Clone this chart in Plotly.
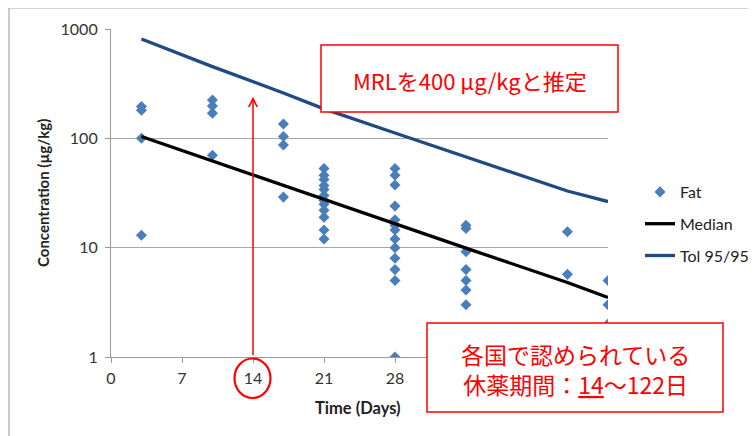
import plotly.graph_objects as go
import math

# ---------------- data ----------------
fat_days = [3, 3, 3, 3,
            10, 10, 10, 10,
            17, 17, 17, 17,
            21, 21, 21, 21, 21, 21, 21, 21, 21, 21, 21, 21,
            28, 28, 28, 28, 28, 28, 28, 28, 28, 28, 28, 28, 28,
            35, 35, 35, 35, 35, 35, 35,
            45, 45,
            49, 49, 49]
fat_conc = [195, 181, 100, 13,
            224, 198, 170, 70,
            135, 104, 87, 29,
            53, 46, 42, 37, 34, 30, 27, 25, 22, 19, 14.5, 12,
            53, 46, 37.5, 24, 18, 16, 14.5, 12, 10, 8, 6.3, 5, 1,
            16, 15, 9.2, 6.3, 5, 4.1, 3,
            14, 5.7,
            5, 3, 2]

line_days = [3, 10, 17, 21, 28, 35, 45, 49]
median_conc = [104, 62, 37, 28, 16.6, 9.9, 4.8, 3.5]
tol_conc = [811, 453, 260, 186, 112, 68, 33, 26.4]

# ticks 35-49 lie hidden behind the text box in the reference
x_ticks = [0, 7, 14, 21, 28]
y_ticks = [1, 10, 100, 1000]
y_ticktext = ["1", "10", "100", "1000"]

mrl_day = 14
mrl_level = 240

# ---------------- layout helpers (screen pixel -> paper) ----------------
OFF = 8                      # page body margin
W, H = 756 - OFF, 436 - OFF
L, R, T, B = 111, 608, 29, 357   # plot area in screen pixels


def px(x):
    return (x - L) / (R - L)


def py(y):
    return (B - y) / (B - T)


FONT = "Lato, 'Open Sans', sans-serif"
JP = "'Noto Sans CJK JP', sans-serif"
RED = "#ff0000"

fig = go.Figure()
fig.add_trace(go.Scatter(
    x=fat_days, y=fat_conc, mode="markers", name="Fat",
    marker=dict(symbol="diamond", size=8.5, color="#4a7ebb"),
    legendgroup="a"))
fig.add_trace(go.Scatter(
    x=line_days, y=median_conc, mode="lines", name="Median",
    line=dict(color="#000000", width=3.3), legendgroup="b"))
fig.add_trace(go.Scatter(
    x=line_days, y=tol_conc, mode="lines", name="Tol 95/95",
    line=dict(color="#1f4a82", width=3.3), legendgroup="c"))

shapes = [
    # outer chart border (top and left)
    dict(type="line", xref="paper", yref="paper", x0=px(9), x1=px(760), y0=py(8), y1=py(8),
         line=dict(color="#a8a8a8", width=1.2)),
    dict(type="line", xref="paper", yref="paper", x0=px(9), x1=px(9), y0=py(8), y1=py(440),
         line=dict(color="#a8a8a8", width=1.2)),
    # MRL box
    dict(type="rect", xref="paper", yref="paper", x0=px(321), x1=px(618), y0=py(112), y1=py(45),
         line=dict(color=RED, width=1.5), fillcolor="white", layer="above"),
    # withdrawal box
    dict(type="rect", xref="paper", yref="paper", x0=px(427), x1=px(723), y0=py(412), y1=py(323),
         line=dict(color=RED, width=1.5), fillcolor="white", layer="above"),
    # circle around 14
    dict(type="circle", xref="paper", yref="paper", x0=px(234.5), x1=px(270.5), y0=py(398), y1=py(358.5),
         line=dict(color=RED, width=2.2), layer="above"),
]

annotations = [
    dict(x=px(470), y=py(80), xref="paper", yref="paper", showarrow=False,
         xanchor="center", yanchor="middle",
         text="MRLを400 µg/kgと推定", font=dict(family=JP, size=22, color=RED)),
    dict(x=px(575), y=py(369), xref="paper", yref="paper", showarrow=False,
         xanchor="center", yanchor="middle",
         text="各国で認められている<br>休薬期間：<u>14</u>～122日",
         font=dict(family=JP, size=23, color=RED), align="center"),
    # arrow
    dict(x=mrl_day, y=math.log10(mrl_level), xref="x", yref="y",
         ax=0, ay=B - 97, axref="pixel", ayref="pixel",
         showarrow=True, arrowhead=5, arrowsize=1.1, arrowwidth=1.5, arrowcolor=RED, text=""),
    # axis titles
    dict(x=px(43), y=0.5, xref="paper", yref="paper", showarrow=False, textangle=-90,
         xanchor="center", yanchor="middle",
         text="<b>Concentration (µg/kg)</b>", font=dict(family=FONT, size=15, color="#222")),
    dict(x=px(358), y=py(408), xref="paper", yref="paper", showarrow=False,
         xanchor="center", yanchor="middle",
         text="<b>Time (Days)</b>", font=dict(family=FONT, size=16.5, color="#222")),
]

fig.update_layout(
    width=W, height=H,
    margin=dict(l=L - OFF, r=W - (R - OFF), t=T - OFF, b=H - (B - OFF), pad=0, autoexpand=False),
    paper_bgcolor="white", plot_bgcolor="white",
    font=dict(family=FONT, size=16, color="#333"),
    showlegend=True,
    legend=dict(x=px(640), y=py(175), xanchor="left", yanchor="top",
                traceorder="grouped", tracegroupgap=8,
                font=dict(family=FONT, size=16, color="#222"), bgcolor="rgba(0,0,0,0)"),
    shapes=shapes, annotations=annotations,
    xaxis=dict(range=[0, 49], tickvals=x_ticks, showgrid=False, zeroline=False,
               showline=True, linecolor="#9a9a9a", linewidth=1.2,
               ticks="outside", ticklen=5, tickcolor="#9a9a9a", ticklabelstandoff=2,
               tickfont=dict(family=FONT, size=16, color="#333")),
    yaxis=dict(type="log", range=[0, 3], tickvals=y_ticks, ticktext=y_ticktext,
               showgrid=True, gridcolor="#a8a8a8", gridwidth=1.2, zeroline=False,
               showline=True, linecolor="#9a9a9a", linewidth=1.2,
               ticks="outside", ticklen=5, tickcolor="#9a9a9a", ticklabelstandoff=4,
               tickfont=dict(family=FONT, size=16, color="#333")),
)

fig.write_html("out.html")
